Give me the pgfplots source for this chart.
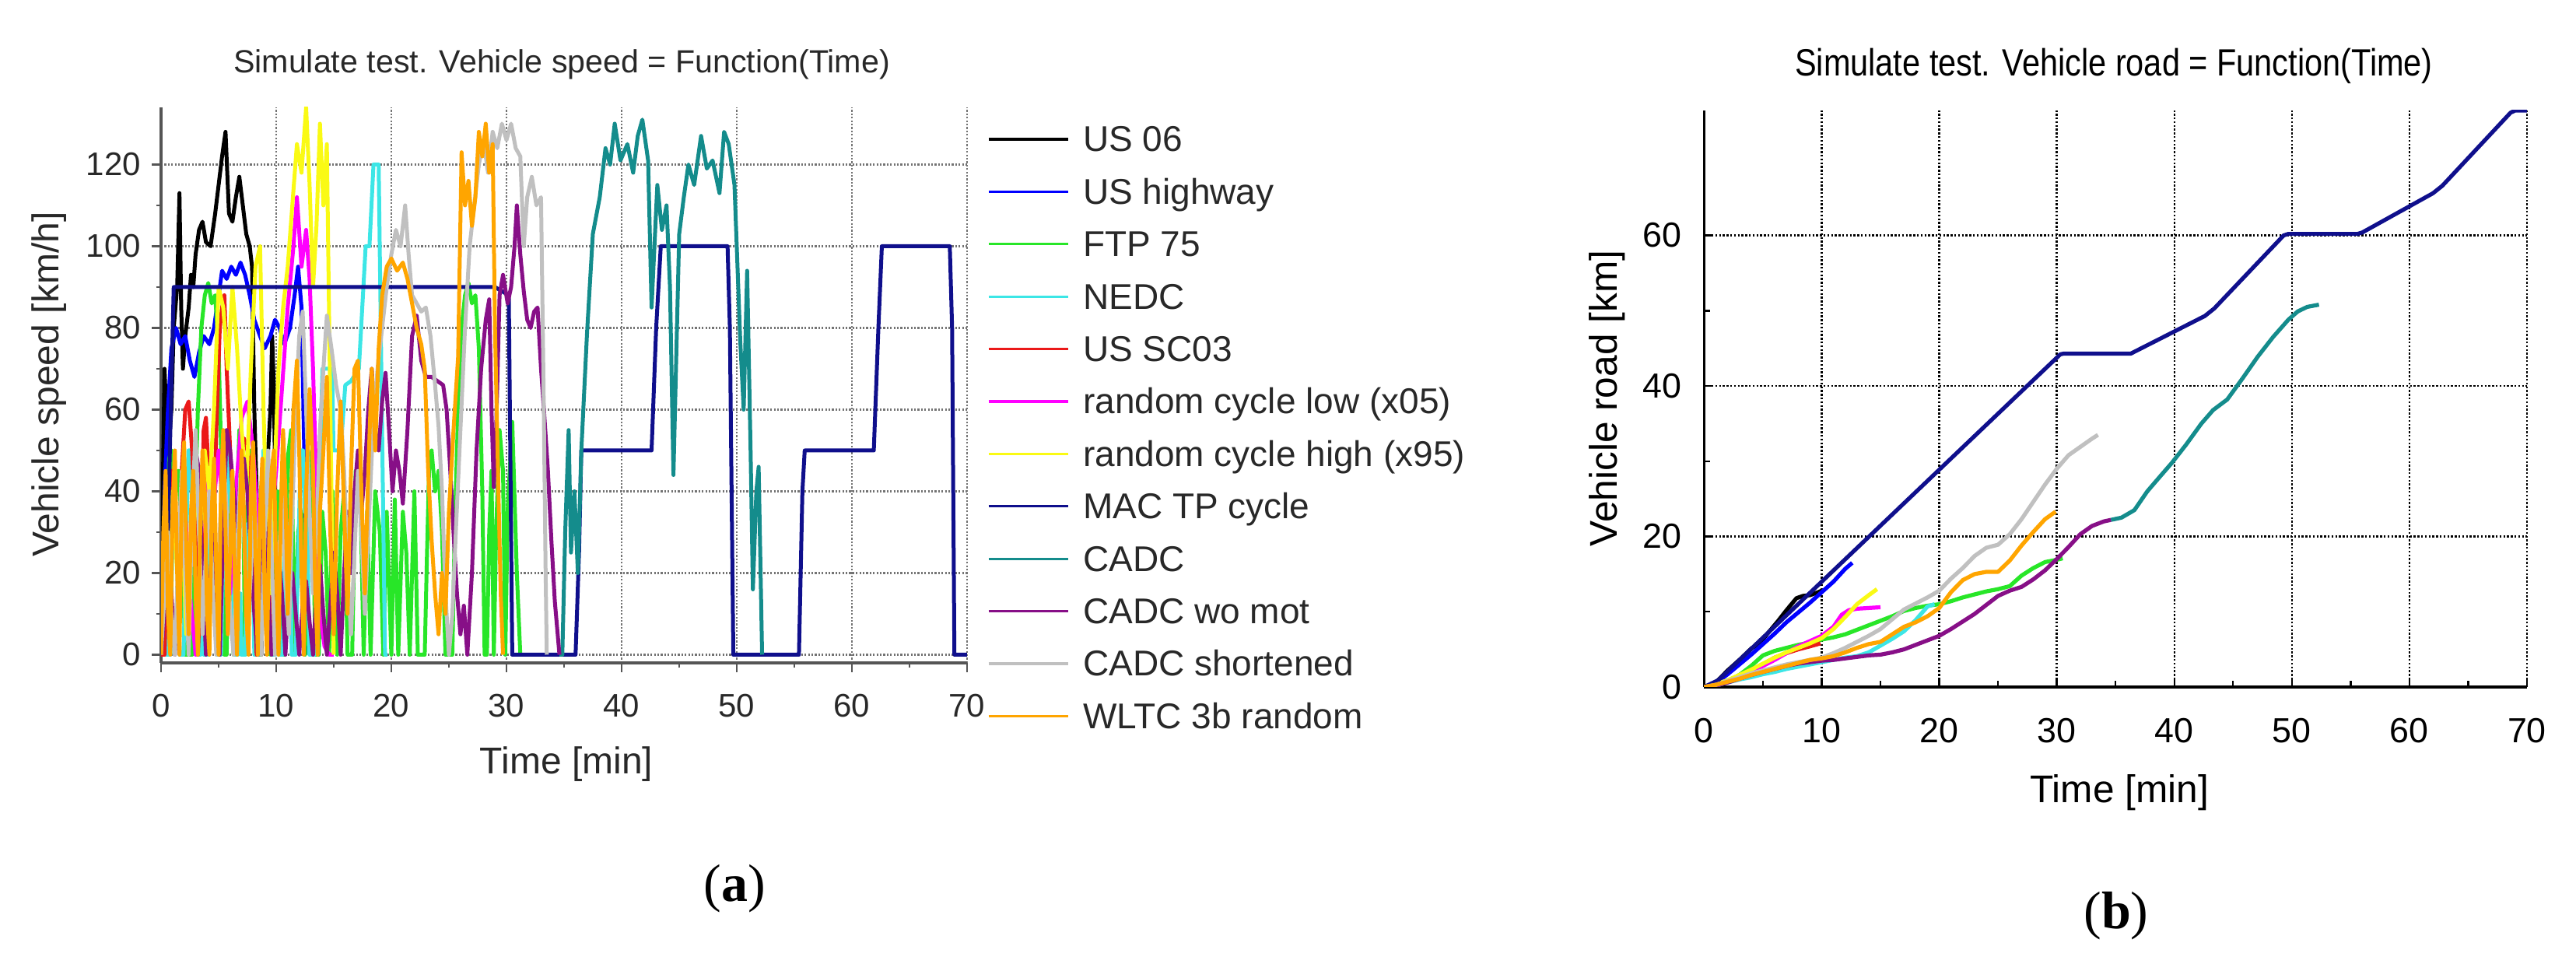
\documentclass[border=0pt]{standalone}
\usepackage{fontspec}
\setmainfont{Liberation Sans}
\newfontfamily\capfont{Liberation Serif}
\newfontfamily\narrowfont[FakeStretch=0.85]{Liberation Sans}
\usepackage{pgfplots}
\pgfplotsset{compat=1.18}

\definecolor{cUSsix}{RGB}{0,0,0}
\definecolor{cUShw}{RGB}{0,0,255}
\definecolor{cFTP}{RGB}{40,230,40}
\definecolor{cNEDC}{RGB}{60,230,230}
\definecolor{cSC}{RGB}{235,25,25}
\definecolor{cLow}{RGB}{255,0,255}
\definecolor{cHigh}{RGB}{250,250,20}
\definecolor{cMAC}{RGB}{15,15,140}
\definecolor{cCADC}{RGB}{20,140,140}
\definecolor{cWoMot}{RGB}{135,15,135}
\definecolor{cShort}{RGB}{192,192,192}
\definecolor{cWLTC}{RGB}{255,165,0}
\definecolor{axgray}{RGB}{85,85,85}
\definecolor{txgray}{RGB}{40,40,40}

\begin{document}
\begin{tikzpicture}
\useasboundingbox (0,0) rectangle (827.75pt,309.75pt);

% ---------------- (a) speed ----------------
\begin{axis}[
    at={(51.75pt,96.75pt)}, anchor=south west,
    scale only axis, width=259pt, height=178.5pt,
    xmin=0, xmax=70, ymin=-2, ymax=134,
    xtick={0,10,...,70}, ytick={0,20,...,120},
    minor x tick num=1, minor y tick num=1,
    axis lines*=left, axis line style={-,axgray,line width=0.8pt},
    tick align=outside, major tick length=3pt, minor tick length=1.6pt,
    every tick/.style={axgray,line width=0.6pt},
    grid=major, major grid style={dash pattern=on 0.55pt off 0.55pt,black!55,line width=0.7pt},
    /pgf/number format/assume math mode=true,
    tick label style={font=\fontsize{10.5}{12}\selectfont,text=txgray},
    xticklabel style={yshift=-3.5pt},
    line join=round,
    every axis plot/.append style={line width=1.25pt},
    legend style={at={(1,1)}, anchor=north west, xshift=6.5pt, yshift=-5.75pt,
        draw=none, fill=none, inner sep=0pt, outer sep=0pt,
        font=\fontsize{11.5}{13}\selectfont, row sep=5.85pt, column sep=4.5pt,
        nodes={inner sep=0pt, text height=8.5pt, text depth=2.5pt, text=txgray}},
    legend cell align=left,
    legend image code/.code={\draw[#1,line width=0.8pt] (0pt,1pt) -- (25.5pt,1pt);},
]
% US 06
\addplot[cUSsix] coordinates {(0,0) (0.15,40) (0.3,70) (0.45,60) (0.6,48) (0.9,60) (1.1,80) (1.4,90) (1.6,113) (1.75,85) (1.9,70) (2.1,78) (2.4,85) (2.6,93) (2.8,90) (3.0,98) (3.3,104) (3.6,106) (3.9,101) (4.3,100) (4.7,108) (5.0,115) (5.3,122) (5.6,128) (5.9,108) (6.2,106) (6.5,112) (6.8,117) (7.1,110) (7.4,103) (7.7,100) (7.9,95) (8.1,60) (8.3,40) (8.5,10) (8.7,0) (8.9,20) (9.2,45) (9.5,60) (9.65,78) (9.8,65) (9.9,45) (10.0,0)};
% US highway
\addplot[cUShw] coordinates {(0,0) (0.3,40) (0.6,60) (0.9,75) (1.3,80) (1.7,76) (2.1,78) (2.5,72) (2.9,68) (3.3,74) (3.7,78) (4.2,76) (4.6,80) (5.0,88) (5.3,94) (5.7,92) (6.1,95) (6.5,93) (6.9,96) (7.3,93) (7.7,88) (8.1,82) (8.6,78) (9.0,75) (9.5,78) (9.9,82) (10.3,80) (10.7,76) (11.2,80) (11.6,88) (11.9,95) (12.2,85) (12.4,55) (12.6,25) (12.75,0)};
% FTP 75
\addplot[cFTP] coordinates {(0,0) (0.33,0) (0.5,25) (0.7,48) (0.9,50) (1.2,40) (1.5,45) (1.8,30) (2.1,0) (2.7,0) (2.9,30) (3.2,60) (3.5,80) (3.8,88) (4.1,91) (4.4,86) (4.7,88) (5.0,75) (5.3,40) (5.5,0) (5.7,0) (5.9,30) (6.1,45) (6.3,0) (6.5,30) (6.8,55) (7.1,45) (7.3,0) (7.5,35) (7.8,50) (8.1,20) (8.4,0)
 (8.6,0) (8.9,40) (9.2,45) (9.5,0) (9.8,35) (10.1,40) (10.4,0) (10.7,0) (11.0,48) (11.3,55) (11.6,0) (11.9,30) (12.2,35) (12.5,0) (12.8,40) (13.1,50) (13.4,0) (13.7,0) (14.0,35) (14.3,25) (14.6,0) (14.9,40) (15.3,0) (15.6,30) (15.9,40) (16.2,0) (16.6,0) (16.9,45) (17.3,40) (17.6,0) (17.9,35) (18.2,0) (18.6,40) (19.0,30) (19.3,0) (19.6,35) (20.0,0) (20.3,38) (20.6,0) (21.0,35) (21.3,25) (21.6,0) (22.0,40) (22.3,0) (22.6,0)
 (22.9,0) (23.1,25) (23.3,48) (23.5,50) (23.8,40) (24.1,45) (24.4,30) (24.7,0) (25.3,0) (25.5,30) (25.8,60) (26.1,80) (26.4,88) (26.7,91) (27.0,86) (27.3,88) (27.6,75) (27.9,40) (28.1,0) (28.3,0) (28.5,30) (28.7,45) (28.9,0) (29.1,30) (29.4,55) (29.7,45) (29.9,0) (30.1,35) (30.5,57) (30.9,20) (31.2,0)};
% NEDC
\addplot[cNEDC] coordinates {(0,0) (0.183,0) (0.25,15) (0.383,15) (0.467,0) (0.817,0) (1.017,32) (1.417,32) (1.6,0) (1.95,0) (2.383,50) (2.583,50) (2.717,35) (2.933,35) (3.133,0)
 (3.433,0) (3.5,15) (3.633,15) (3.717,0) (4.067,0) (4.267,32) (4.667,32) (4.85,0) (5.2,0) (5.633,50) (5.833,50) (5.967,35) (6.183,35) (6.383,0)
 (6.683,0) (6.75,15) (6.883,15) (6.967,0) (7.317,0) (7.517,32) (7.917,32) (8.1,0) (8.45,0) (8.883,50) (9.083,50) (9.217,35) (9.433,35) (9.633,0)
 (9.933,0) (10.0,15) (10.133,15) (10.217,0) (10.567,0) (10.767,32) (11.167,32) (11.35,0) (11.7,0) (12.133,50) (12.333,50) (12.467,35) (12.683,35) (12.883,0)
 (13.33,0) (14.02,70) (14.85,70) (14.98,50) (15.6,50) (16.0,66) (16.5,67) (17.18,70) (17.77,100) (18.1,100) (18.45,120) (18.9,120) (19.45,0) (19.67,0)};
% US SC03
\addplot[cSC] coordinates {(0,0) (0.3,0) (0.6,30) (0.9,45) (1.2,35) (1.5,20) (1.8,45) (2.1,60) (2.4,62) (2.7,50) (3.0,30) (3.2,0) (3.5,20) (3.7,55) (3.9,58) (4.2,40) (4.5,25) (4.8,55) (5.1,80) (5.3,85) (5.5,88) (5.7,70) (6.0,50) (6.3,35) (6.6,20) (6.9,48) (7.2,53) (7.5,50) (7.8,45) (8.0,25) (8.3,0) (8.6,15) (8.9,35) (9.2,40) (9.5,20) (9.9,0)};
% random cycle low (x05)
\addplot[cLow] coordinates {(0,0) (0.5,20) (1,35) (1.5,25) (2,40) (2.5,15) (3,0) (3.5,30) (4,45) (4.5,35) (5,50) (5.5,30) (6,15) (6.5,40) (7,58) (7.5,62) (8,50) (8.5,30) (9,10) (9.5,30) (10,45) (10.5,65) (11,85) (11.5,100) (11.8,112) (12.2,95) (12.6,104) (12.9,92) (13.2,70) (13.5,40) (13.8,10) (14.2,2) (14.6,0) (15,0)};
% random cycle high (x95)
\addplot[cHigh] coordinates {(0,0) (0.3,25) (0.6,10) (1.0,40) (1.4,20) (1.8,35) (2.2,5) (2.6,30) (3.0,45) (3.4,25) (3.8,50) (4.2,40) (4.6,60) (5.0,90) (5.4,85) (5.8,70) (6.2,90) (6.6,75) (7.0,55) (7.4,40) (7.8,70) (8.2,95) (8.6,100) (8.9,60) (9.2,30) (9.5,15) (9.8,40) (10.2,70) (10.6,85) (11.0,95) (11.4,110) (11.8,125) (12.2,118) (12.6,134) (12.9,115) (13.2,90) (13.5,105) (13.8,130) (14.1,110) (14.4,125) (14.7,60) (14.9,20) (15.0,0)};
% MAC TP cycle
\addplot[cMAC] coordinates {(0,0) (0.6,30) (1.1,90) (29.0,90) (30.2,88) (30.5,0) (36.0,0) (36.3,25) (36.5,50) (42.6,50) (43.0,80) (43.4,100) (49.2,100) (49.4,80) (49.7,0) (55.4,0) (55.7,40) (55.9,50) (61.9,50) (62.3,80) (62.6,100) (68.5,100) (68.7,80) (68.9,0) (70,0)};
% CADC
\addplot[cCADC] coordinates {(34.6,0) (34.85,0) (35.1,30) (35.4,55) (35.6,25) (35.9,40) (36.2,20) (36.5,50) (37.0,79) (37.5,103) (38.1,112) (38.6,124) (39.0,120) (39.4,130) (39.9,121) (40.5,125) (41.0,118) (41.4,127) (41.8,131) (42.3,121) (42.6,85) (43.1,115) (43.5,104) (43.9,110) (44.2,90) (44.5,44) (45.0,103) (45.4,112) (45.8,120) (46.3,115) (46.9,127) (47.4,119) (47.9,121) (48.5,113) (48.9,128) (49.3,125) (49.8,115) (50.3,77) (50.6,60) (50.9,94) (51.2,50) (51.4,16) (51.7,40) (51.9,46) (52.2,0)};
% CADC wo mot
\addplot[cWoMot] coordinates {(0,0) (0.3,10) (0.6,25) (0.9,15) (1.2,0) (1.5,20) (1.8,38) (2.1,30) (2.4,10) (2.7,35) (3.0,50) (3.3,45) (3.6,20) (3.9,0) (4.2,15) (4.5,30) (4.8,10) (5.1,0) (5.4,30) (5.7,55) (6.0,50) (6.3,40) (6.6,30) (6.9,45) (7.2,48) (7.5,40) (7.8,25) (8.1,10) (8.4,0) (8.7,20) (9.0,35) (9.3,15) (9.6,0) (9.9,10) (10.2,25) (10.5,15) (10.8,0) (11.1,15) (11.4,20) (11.7,10) (12.0,0) (12.3,12) (12.6,18) (12.9,8) (13.2,0) (13.5,15) (13.8,22) (14.1,10) (14.4,0) (14.7,12) (15.0,25) (15.3,15) (15.6,0) (15.9,20) (16.2,35) (16.5,20) (16.8,40) (17.1,50) (17.4,35) (17.7,45) (18.0,60) (18.3,70) (18.6,55) (18.9,50) (19.2,62) (19.5,69) (19.8,55) (20.1,40) (20.4,50) (20.7,45) (21.0,37) (21.4,55) (21.8,78) (22.2,83) (22.6,72) (23.0,68) (23.5,68) (24.0,67) (24.5,66) (24.8,60) (25.1,46) (25.4,30) (25.7,15) (26.0,5) (26.3,12) (26.6,0) (27.0,20) (27.4,50) (27.8,70) (28.2,82) (28.5,87) (28.7,60) (28.9,41) (29.1,55) (29.4,88) (29.7,93) (30.1,86) (30.4,90) (30.7,100) (30.9,110) (31.2,98) (31.5,89) (31.8,82) (32.1,80) (32.4,84) (32.7,85) (33.0,70) (33.3,58) (33.6,45) (33.9,28) (34.2,13) (34.6,0)};
% CADC shortened
\addplot[cShort] coordinates {(0,0) (0.3,15) (0.6,30) (0.9,10) (1.2,0) (1.5,25) (1.8,45) (2.1,20) (2.4,0) (2.7,35) (3.0,55) (3.3,30) (3.6,5) (3.9,25) (4.2,40) (4.5,15) (4.8,0) (5.1,30) (5.4,50) (5.7,35) (6.0,10) (6.3,0) (6.6,25) (6.9,45) (7.2,30) (7.5,5) (7.8,20) (8.1,40) (8.4,15) (8.7,0) (9.0,30) (9.3,50) (9.6,25) (9.9,0) (10.2,20) (10.5,40) (10.8,20) (11.1,5) (11.4,35) (11.7,60) (12.0,78) (12.3,84) (12.6,60) (12.9,35) (13.2,15) (13.5,30) (13.8,55) (14.1,70) (14.4,83) (14.8,75) (15.2,66) (15.6,60) (15.9,45) (16.2,20) (16.5,5) (16.8,25) (17.1,45) (17.4,30) (17.7,10) (18.0,30) (18.4,55) (18.8,70) (19.2,80) (19.6,90) (20.0,98) (20.4,104) (20.8,100) (21.2,110) (21.5,98) (21.8,88) (22.2,86) (22.6,84) (23.0,85) (23.4,78) (23.8,66) (24.1,56) (24.4,40) (24.7,15) (25.0,0) (25.3,10) (25.6,30) (26.0,55) (26.4,80) (26.8,100) (27.2,110) (27.6,120) (28.0,126) (28.4,118) (28.8,128) (29.2,124) (29.6,130) (30.0,126) (30.4,130) (30.8,124) (31.2,122) (31.5,100) (31.8,112) (32.2,117) (32.6,110) (33.0,112) (33.2,70) (33.4,20) (33.5,0)};
% WLTC 3b random
\addplot[cWLTC] coordinates {(0,0) (0.2,30) (0.4,45) (0.6,10) (0.8,0) (1.0,35) (1.2,50) (1.4,20) (1.6,0) (1.8,40) (2.0,52) (2.2,25) (2.4,5) (2.6,35) (2.8,45) (3.0,15) (3.2,0) (3.4,30) (3.6,50) (3.8,40) (4.0,10) (4.2,0) (4.4,35) (4.6,48) (4.8,20) (5.0,0) (5.2,40) (5.4,55) (5.6,30) (5.8,5) (6.0,25) (6.2,45) (6.4,20) (6.6,0) (6.8,30) (7.0,50) (7.2,35) (7.4,10) (7.6,0) (7.8,40) (8.0,52) (8.2,25) (8.4,0) (8.6,35) (8.8,48) (9.0,15) (9.2,0) (9.4,30) (9.6,45) (9.8,50) (10.0,20) (10.2,0) (10.4,35) (10.6,55) (10.8,40) (11.0,10) (11.2,30) (11.5,60) (11.8,72) (12.0,50) (12.2,20) (12.4,0) (12.6,40) (12.9,65) (13.2,45) (13.4,15) (13.6,0) (13.8,35) (14.1,50) (14.4,68) (14.7,30) (15.0,5) (15.3,40) (15.6,62) (15.9,35) (16.2,10) (16.5,45) (16.8,70) (17.1,72) (17.4,40) (17.7,15) (18.0,45) (18.3,70) (18.6,50) (18.9,75) (19.2,88) (19.6,95) (20.0,97) (20.5,94) (21.0,96) (21.4,92) (21.8,86) (22.2,80) (22.6,76) (22.9,70) (23.2,45) (23.5,28) (23.8,15) (24.1,5) (24.4,20) (24.7,10) (25.0,35) (25.4,55) (25.8,73) (26.1,123) (26.4,110) (26.7,116) (27.0,105) (27.3,112) (27.6,128) (27.9,122) (28.2,130) (28.5,118) (28.8,125) (29.0,80) (29.3,40) (29.5,15) (29.7,0)};
\legend{US 06, US highway, FTP 75, NEDC, US SC03, random cycle low (x05), random cycle high (x95), MAC TP cycle, CADC, CADC wo mot, CADC shortened, WLTC 3b random}
\end{axis}

% ---------------- (b) road ----------------
\begin{axis}[
    at={(547.6pt,89pt)}, anchor=south west,
    scale only axis, width=264.4pt, height=185.25pt,
    xmin=0, xmax=70, ymin=0, ymax=76.6,
    xtick={0,10,...,70}, ytick={0,20,...,60},
    minor x tick num=1, minor y tick num=1,
    axis lines*=left, axis line style={-,black,line width=0.8pt},
    tick align=inside, major tick length=3pt, minor tick length=2pt,
    every tick/.style={black,line width=0.6pt},
    grid=major, major grid style={dash pattern=on 0.6pt off 0.6pt,black,line width=0.6pt},
    /pgf/number format/assume math mode=true,
    tick label style={font=\fontsize{11.2}{13}\selectfont,text=black},
    xticklabel style={yshift=-6.5pt},
    yticklabel style={xshift=-3.7pt},
    line join=round,
    every axis plot/.append style={line width=1.3pt},
]
\addplot[cUSsix] coordinates {(0,0) (1,0.6) (2,2.2) (3,3.6) (4,5.1) (4.7,5.8) (5.5,7.3) (6.3,8.8) (7.0,10.2) (7.85,11.8) (8.4,12.1) (9.0,12.2) (9.7,12.6) (10.0,12.8)};
\addplot[cUShw] coordinates {(0,0) (0.5,0.1) (1,0.5) (2,1.7) (3,3.0) (4,4.3) (5,5.7) (6,7.1) (7,8.6) (8,9.9) (9,11.2) (10,12.6) (11,14.0) (12,15.7) (12.6,16.5)};
\addplot[cFTP] coordinates {(0,0) (1,0.3) (2,0.8) (3,1.6) (4,2.8) (5,4.2) (6,4.8) (7,5.2) (8,5.6) (9,5.9) (10,6.3) (11,6.6) (12,7.0) (13,7.6) (14,8.2) (15,8.8) (16,9.4) (17,10.1) (18,10.5) (19,10.8) (20,11.0) (21,11.4) (22,11.9) (23,12.3) (24,12.7) (25,13.0) (26,13.4) (27,14.8) (28,15.8) (29,16.6) (30,16.9) (30.5,17.1)};
\addplot[cNEDC] coordinates {(0,0) (1,0.2) (2,0.6) (3,1.0) (4,1.3) (5,1.7) (6,2.0) (7,2.4) (8,2.7) (9,3.0) (10,3.3) (11,3.6) (12,3.9) (13,4.1) (14,4.6) (15,5.5) (16,6.4) (17,7.4) (18,8.9) (19,10.7) (19.6,11.0)};
\addplot[cSC] coordinates {(0,0) (1,0.3) (2,0.8) (3,1.5) (4,2.3) (5,3.0) (6,3.9) (7,4.5) (8,5.0) (9,5.4) (9.9,5.8)};
\addplot[cLow] coordinates {(0,0) (1,0.3) (2,0.8) (3,1.4) (4,2.0) (5,2.8) (6,3.6) (7,4.5) (8,5.4) (9,6.1) (10,6.8) (11,8.0) (11.7,9.6) (12.3,10.2) (13,10.4) (14,10.5) (15,10.6)};
\addplot[cHigh] coordinates {(0,0) (1,0.4) (2,0.9) (3,1.6) (4,2.3) (5,3.1) (6,3.9) (7,4.6) (8,5.2) (9,5.8) (10,6.5) (11,7.7) (12,9.3) (13,11.0) (14,12.2) (14.7,13.0)};
\addplot[cMAC] coordinates {(0,0) (1.2,0.9) (30.3,44.2) (30.6,44.3) (36.3,44.3) (42.6,49.3) (43.4,50.3) (49.3,60.0) (49.7,60.2) (55.6,60.2) (56,60.4) (62,65.6) (62.8,66.6) (68.6,76.3) (69,76.6) (70,76.6)};
\addplot[cCADC] coordinates {(34.6,22.2) (35.5,22.5) (36.6,23.5) (37.7,26.0) (38.8,28.0) (39.8,29.8) (41,32.2) (42.3,35.0) (43.3,36.8) (44.5,38.2) (45.8,41.0) (47.1,43.9) (48.4,46.5) (49.7,48.8) (50.5,49.9) (51.3,50.5) (52.3,50.8)};
\addplot[cWoMot] coordinates {(0,0) (1,0.2) (2,0.6) (3,1.1) (4,1.6) (5,2.0) (6,2.4) (7,2.8) (8,3.1) (9,3.3) (10,3.5) (11,3.6) (12,3.8) (13,4.0) (14,4.2) (15,4.3) (16,4.6) (17,5.0) (18,5.6) (19,6.2) (20,6.8) (21,7.7) (22,8.7) (23,9.7) (24,10.9) (25,12.1) (26,12.8) (27,13.3) (28,14.3) (29,15.5) (30,17.0) (31,18.6) (32,20.3) (33,21.4) (34,22.0) (34.6,22.2)};
\addplot[cShort] coordinates {(0,0) (1,0.3) (2,0.8) (3,1.3) (4,1.8) (5,2.2) (6,2.6) (7,3.0) (8,3.3) (9,3.6) (10,3.9) (11,4.5) (12,5.2) (13,6.0) (14,6.8) (15,7.7) (16,9.0) (17,10.3) (18,11.1) (19,11.9) (20,12.8) (21,14.4) (22,15.8) (23,17.4) (24,18.5) (25,18.9) (26,20.3) (27,22.3) (28,24.6) (29,26.9) (30,29.0) (31,30.8) (32,31.9) (33,33.0) (33.5,33.5)};
\addplot[cWLTC] coordinates {(0,0) (1,0.3) (2,0.7) (3,1.1) (4,1.6) (5,2.0) (6,2.4) (7,2.8) (8,3.2) (9,3.6) (10,3.8) (11,4.1) (12,4.6) (13,5.2) (14,5.7) (15,6.0) (16,7.0) (17,8.0) (18,8.6) (19,9.4) (20,10.5) (21,12.6) (22,14.2) (23,15.0) (24,15.3) (25,15.3) (26,16.8) (27,18.8) (28,20.6) (29,22.3) (29.9,23.3)};
\end{axis}

% titles, axis labels, captions
\node[text=txgray,font=\fontsize{10.3}{12}\selectfont] at (180.5pt,289pt) {Simulate test. Vehicle speed = Function(Time)};
\node[text=txgray,font=\fontsize{12}{14}\selectfont] at (182pt,64.25pt) {Time [min]};
\node[text=txgray,font=\fontsize{12}{14}\selectfont,rotate=90] at (15.75pt,186.25pt) {Vehicle speed [km/h]};
\node[font=\capfont\fontsize{17}{20}\selectfont] at (236pt,24.25pt) {(\textbf{a})};

\node[font=\narrowfont\fontsize{12.2}{14}\selectfont] at (679.25pt,288.5pt) {Simulate test. Vehicle road = Function(Time)};
\node[font=\fontsize{12.4}{14}\selectfont] at (681pt,55pt) {Time [min]};
\node[font=\fontsize{12.4}{14}\selectfont,rotate=90] at (516.5pt,181.75pt) {Vehicle road [km]};
\node[font=\capfont\fontsize{17}{20}\selectfont] at (680pt,15.5pt) {(\textbf{b})};
\end{tikzpicture}
\end{document}
